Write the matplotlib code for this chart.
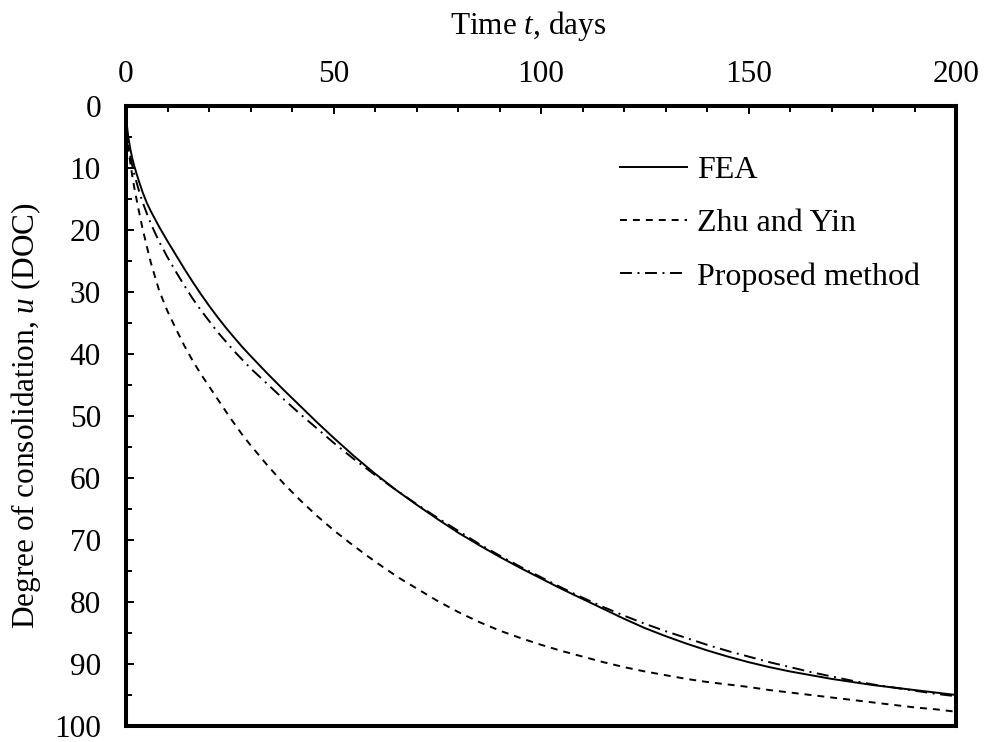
import matplotlib
matplotlib.use("Agg")
import matplotlib.pyplot as plt
import numpy as np

plt.rcParams["font.family"] = ["Liberation Serif", "DejaVu Serif"]
plt.rcParams["mathtext.fontset"] = "custom"
plt.rcParams["mathtext.it"] = "Liberation Serif:italic"
plt.rcParams["mathtext.rm"] = "Liberation Serif"
plt.rcParams["lines.scale_dashes"] = False

# Degree of consolidation u (%) against time t (days)
t_fea = [0, 0.2, 0.5, 1, 1.5, 2, 3, 4, 5, 6, 8, 10, 12, 14, 16, 18, 20, 22, 24,
         26, 28, 30, 34, 38, 42, 46, 50, 55, 60, 65, 70, 75, 80, 85, 90, 95, 100,
         105, 110, 115, 120, 125, 130, 135, 140, 145, 150, 155, 160, 165, 170,
         175, 180, 185, 190, 195, 200]
u_fea = [0, 3.0, 4.8, 6.8, 8.4, 9.7, 11.9, 13.9, 15.6, 17.0, 19.5, 21.8, 24.0,
         26.2, 28.3, 30.3, 32.2, 34.0, 35.7, 37.3, 38.85, 40.3, 43.1, 45.8, 48.4,
         51.0, 53.5, 56.5, 59.3, 61.9, 64.3, 66.6, 68.8, 70.8, 72.7, 74.5, 76.2,
         77.9, 79.5, 81.1, 82.7, 84.2, 85.5, 86.7, 87.8, 88.8, 89.7, 90.5, 91.2,
         91.8, 92.4, 92.9, 93.4, 93.8, 94.2, 94.6, 95.0]

t_zhu = [0, 0.2, 0.5, 1, 1.5, 2, 3, 4, 5, 6, 8, 10, 12, 14, 16, 18, 20, 22, 25,
         28, 30, 34, 38, 42, 46, 50, 54, 58, 62, 66, 70, 75, 80, 85, 90, 95, 100,
         105, 110, 115, 120, 125, 130, 135, 140, 145, 150, 155, 160, 165, 170,
         175, 180, 185, 190, 195, 200]
u_zhu = [0, 4.0, 6.5, 9.0, 11.2, 13.2, 16.6, 19.8, 22.6, 25.3, 29.8, 33.1, 35.9,
         38.6, 41.0, 43.2, 45.2, 47.2, 50.2, 53.0, 54.7, 57.9, 60.9, 63.6, 66.1,
         68.4, 70.5, 72.5, 74.4, 76.2, 77.8, 79.8, 81.6, 83.2, 84.6, 85.8, 86.9,
         87.9, 88.8, 89.7, 90.5, 91.2, 91.8, 92.4, 92.9, 93.3, 93.7, 94.2, 94.6,
         95.0, 95.4, 95.8, 96.2, 96.6, 97.0, 97.3, 97.7]

t_prop = [0, 0.2, 0.5, 1, 1.5, 2, 3, 4, 5, 6, 8, 10, 12, 14, 16, 18, 22, 26, 30,
          34, 38, 42, 46, 50, 55, 60, 65, 70, 75, 80, 85, 90, 95, 100, 105, 110,
          115, 120, 125, 130, 135, 140, 145, 150, 155, 160, 165, 170, 175, 180,
          185, 190, 195, 200]
u_prop = [0, 3.8, 5.8, 8.0, 9.6, 11.0, 13.4, 15.5, 17.3, 19.0, 21.9, 24.4, 26.7,
          28.9, 31.0, 32.9, 36.4, 39.5, 42.3, 44.8, 47.3, 49.7, 52.0, 54.3, 57.0,
          59.5, 61.9, 64.2, 66.4, 68.5, 70.6, 72.5, 74.3, 76.0, 77.7, 79.3, 80.8,
          82.2, 83.5, 84.7, 85.8, 86.9, 87.9, 88.8, 89.7, 90.5, 91.3, 92.0, 92.7,
          93.3, 93.8, 94.3, 94.8, 95.2]

x_major = [0, 50, 100, 150, 200]
y_major = list(range(0, 101, 10))

fig = plt.figure(figsize=(9.84, 7.42), dpi=100)
ax = fig.add_axes([126 / 984, 1 - 726 / 742, (956 - 126) / 984, (726 - 106) / 742])

lw = 1.4
ax.plot(t_fea, u_fea, color="black", lw=lw, linestyle="-", label="FEA")
ax.plot(t_zhu, u_zhu, color="black", lw=lw, linestyle=(0, (5.0, 4.3)),
        label="Zhu and Yin")
ax.plot(t_prop, u_prop, color="black", lw=lw,
        linestyle=(0, (8.6, 4.0, 1.4, 4.0)), label="Proposed method")

ax.set_xlim(0, 200)
ax.set_ylim(100, 0)

ax.xaxis.set_ticks_position("top")
ax.xaxis.set_label_position("top")
ax.set_xticks(x_major)
ax.set_xticks(np.arange(0, 201, 10), minor=True)
ax.set_yticks(y_major)
ax.set_yticks(np.arange(5, 100, 10), minor=True)

fs = 22.5
ax.tick_params(which="both", direction="in", width=1.4, labelsize=fs,
               color="black", labelcolor="black")
ax.tick_params(which="major", length=6)
ax.tick_params(which="minor", length=4.6)
ax.tick_params(axis="x", which="both", top=True, bottom=False, pad=12)
ax.tick_params(axis="y", which="both", left=True, right=False, pad=18)

for s in ax.spines.values():
    s.set_linewidth(2.9)

ax.set_xlabel("Time $\\mathit{t}$, days", fontsize=fs, labelpad=19)
ax.xaxis.label.set_x((528 - 126) / 830)
ax.set_ylabel("Degree of consolidation, $\\mathit{u}$ (DOC)", fontsize=fs,
              labelpad=8)

leg = ax.legend(loc="upper left",
                bbox_to_anchor=(620 / 984, (742 - 156) / 742),
                bbox_transform=fig.transFigure, frameon=False, fontsize=23,
                handlelength=2.1, handletextpad=0.3, labelspacing=0.74,
                borderpad=0, borderaxespad=0)

fig.savefig("out.png", dpi=100)
